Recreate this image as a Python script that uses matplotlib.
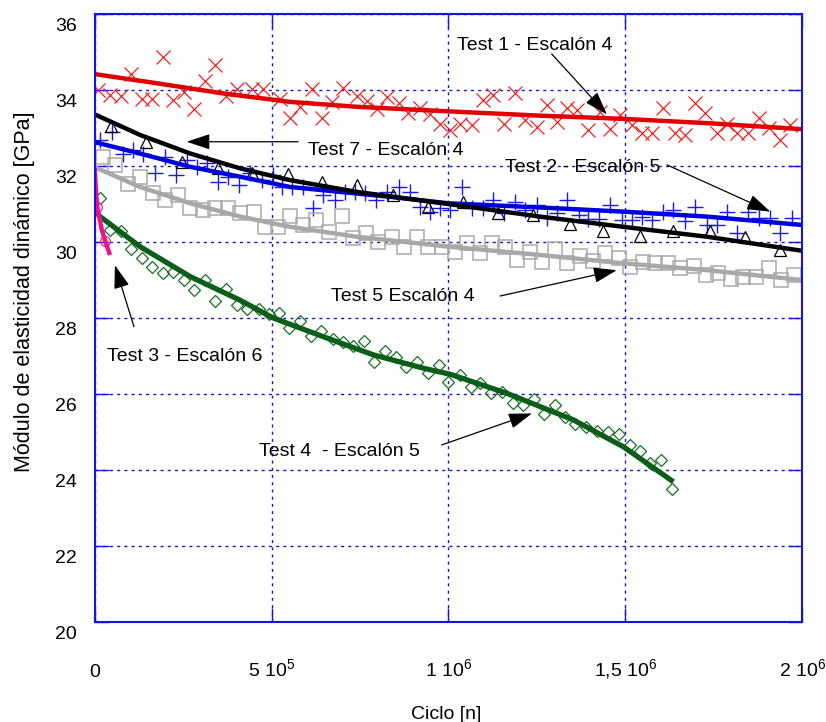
import numpy as np
import matplotlib
matplotlib.use("Agg")
import matplotlib.pyplot as plt
from matplotlib.transforms import ScaledTranslation

plt.rcParams['font.family'] = ['Liberation Sans', 'DejaVu Sans']
plt.rcParams['mathtext.fontset'] = 'custom'
plt.rcParams['mathtext.rm'] = 'Liberation Sans'

# ---------------- data (x in thousands of cycles, y in GPa) ----------------
# Test 1 - Escalón 4 (red x)
t1_x = [10, 43, 74, 102, 133, 161, 192, 222, 253, 282, 312, 340, 371, 403, 444, 477,
        524, 552, 581, 614, 642, 670, 703, 741, 769, 797, 826, 859, 887, 920, 948, 977,
        1005, 1033, 1066, 1099, 1127, 1156, 1189, 1217, 1250, 1278, 1307, 1335, 1363,
        1396, 1429, 1457, 1486, 1519, 1547, 1575, 1608, 1641, 1669, 1698, 1726, 1759,
        1787, 1816, 1848, 1877, 1905, 1938, 1966]
t1_y = [34.00, 33.87, 33.84, 34.41, 33.76, 33.76, 34.88, 33.74, 33.96, 33.49, 34.24,
        34.66, 33.84, 34.02, 34.03, 34.04, 33.76, 33.26, 33.56, 34.02, 33.26, 33.69,
        34.06, 33.84, 33.71, 33.49, 33.82, 33.65, 33.40, 33.53, 33.36, 33.12, 32.95,
        33.12, 33.08, 33.74, 33.87, 33.12, 33.91, 33.21, 33.03, 33.61, 33.17, 33.54,
        33.47, 32.95, 33.43, 32.97, 33.34, 33.08, 32.88, 32.88, 33.52, 32.86, 32.82,
        33.65, 33.39, 32.86, 33.12, 32.86, 32.86, 33.26, 32.99, 32.68, 33.08]
t1_fit_x = [0, 175, 364, 552, 741, 1000, 1250, 1500, 1750, 2000]
t1_fit_y = [34.42, 34.18, 33.91, 33.69, 33.56, 33.44, 33.33, 33.24, 33.12, 32.97]

# Test 7 - Escalón 4 (black triangles)
t7_x = [45, 145, 246, 348, 446, 546, 642, 741, 844, 943, 1042, 1141, 1240, 1344,
        1438, 1542, 1636, 1740, 1839, 1938]
t7_y = [33.05, 32.64, 32.11, 31.94, 31.81, 31.79, 31.59, 31.50, 31.24, 30.93, 31.06,
        30.76, 30.71, 30.47, 30.30, 30.16, 30.30, 30.30, 30.12, 29.79]
t7_fit_x = [0, 128, 270, 411, 552, 741, 1000, 1259, 1495, 1731, 2000]
t7_fit_y = [33.36, 32.82, 32.33, 31.94, 31.63, 31.32, 31.00, 30.67, 30.40, 30.14, 29.77]

# Test 2 - Escalón 5 (blue +)
t2_x = [15, 48, 81, 109, 137, 171, 199, 230, 260, 288, 317, 348, 378, 409, 439, 472,
        503, 529, 557, 590, 618, 646, 680, 708, 736, 764, 796, 826, 859, 890, 920, 948,
        977, 1005, 1038, 1066, 1099, 1127, 1156, 1189, 1217, 1250, 1278, 1307, 1335,
        1368, 1396, 1427, 1457, 1490, 1519, 1547, 1575, 1606, 1636, 1669, 1698, 1731,
        1759, 1787, 1816, 1848, 1877, 1910, 1938, 1971]
t2_y = [32.68, 32.90, 32.33, 32.42, 32.33, 31.81, 32.24, 31.76, 32.16, 31.98, 32.07,
        31.59, 31.72, 31.50, 31.81, 31.63, 31.76, 31.45, 31.45, 31.45, 30.89, 31.24,
        31.11, 31.32, 31.32, 31.28, 31.11, 31.32, 31.45, 31.32, 30.93, 30.80, 30.89,
        30.84, 31.45, 30.89, 30.89, 31.11, 30.76, 31.06, 30.84, 30.97, 30.62, 30.76,
        31.11, 30.71, 30.60, 30.60, 30.97, 30.58, 30.58, 30.67, 30.58, 30.80, 30.84,
        30.56, 30.91, 30.45, 30.45, 30.80, 30.23, 30.80, 30.62, 30.62, 30.25, 30.62]
t2_fit_x = [0, 128, 270, 411, 552, 835, 1000, 1259, 1495, 1731, 2000]
t2_fit_y = [32.63, 32.33, 31.98, 31.72, 31.45, 31.19, 31.02, 30.91, 30.80, 30.67, 30.45]

# Test 5 Escalón 4 (grey squares)
t5_x = [24, 57, 95, 128, 166, 199, 236, 270, 307, 340, 378, 411, 449, 482, 519, 552,
        590, 626, 661, 699, 731, 767, 802, 840, 873, 911, 943, 981, 1019, 1052, 1088,
        1123, 1160, 1193, 1231, 1264, 1302, 1335, 1372, 1408, 1443, 1481, 1514, 1550,
        1585, 1622, 1655, 1693, 1729, 1763, 1799, 1834, 1870, 1905, 1940, 1978]
t5_y = [32.24, 32.03, 31.54, 31.72, 31.28, 31.11, 31.24, 30.89, 30.84, 30.89, 30.89,
        30.76, 30.80, 30.40, 30.40, 30.68, 30.45, 30.58, 30.27, 30.68, 30.10, 30.23,
        30.01, 30.14, 29.88, 30.14, 29.88, 29.88, 29.74, 29.97, 29.70, 29.97, 29.88,
        29.53, 29.74, 29.48, 29.83, 29.44, 29.63, 29.51, 29.70, 29.57, 29.35, 29.48,
        29.46, 29.44, 29.31, 29.37, 29.13, 29.18, 29.04, 29.09, 29.09, 29.31, 29.00,
        29.13]
t5_fit_x = [0, 128, 270, 411, 552, 741, 1000, 1259, 1495, 1731, 2000]
t5_fit_y = [31.97, 31.45, 31.02, 30.67, 30.40, 30.14, 29.88, 29.66, 29.44, 29.26, 29.00]

# Test 4 - Escalón 5 (green diamonds)
t4_x = [15, 43, 73, 102, 133, 161, 192, 222, 253, 282, 312, 340, 371, 401, 430, 463,
        494, 522, 550, 581, 611, 639, 673, 703, 731, 762, 790, 821, 852, 880, 911, 941,
        972, 1000, 1033, 1063, 1090, 1120, 1151, 1182, 1212, 1242, 1271, 1302, 1330,
        1358, 1389, 1421, 1452, 1481, 1512, 1542, 1570, 1601, 1632]
t4_y = [31.15, 30.32, 30.30, 29.83, 29.57, 29.35, 29.18, 29.22, 29.00, 28.74, 29.00,
        28.46, 28.76, 28.34, 28.23, 28.25, 28.11, 28.14, 27.75, 27.93, 27.53, 27.67,
        27.44, 27.38, 27.26, 27.40, 26.85, 27.14, 26.97, 26.72, 26.85, 26.56, 26.76,
        26.32, 26.50, 26.19, 26.28, 26.02, 26.06, 25.77, 25.71, 25.86, 25.47, 25.71,
        25.39, 25.21, 25.12, 25.04, 25.01, 24.95, 24.66, 24.51, 24.19, 24.26, 23.49]
t4_fit_x = [0, 15, 128, 270, 411, 505, 646, 788, 929, 1005, 1165, 1353, 1495, 1636]
t4_fit_y = [30.85, 30.67, 29.88, 29.09, 28.47, 28.00, 27.51, 27.03, 26.68, 26.52,
            26.02, 25.32, 24.61, 23.69]

# Test 3 - Escalón 6 (magenta circles)
t3_x = [7, 30]
t3_y = [30.93, 30.03]
t3_fit_x = [0, 3, 7, 20, 30, 43]
t3_fit_y = [31.95, 31.40, 30.93, 30.32, 30.02, 29.66]

# annotations: (text, text centre, arrow tail, arrow head)
annotations = [
    ("Test 1 - Escalón 4", (1245, 35.17), (1292, 34.95), (1448, 33.36)),
    ("Test 7 - Escalón 4", (824, 32.42), (575, 32.64), (260, 32.64)),
    ("Test 2 - Escalón 5", (1379, 31.96), (1618, 32.03), (1910, 30.80)),
    ("Test 5 Escalón 4", (870, 28.56), (1146, 28.58), (1476, 29.26)),
    ("Test 3 - Escalón 6", (255, 26.98), (111, 27.77), (57, 29.39)),
    ("Test 4  - Escalón 5", (691, 24.48), (981, 24.66), (1236, 25.49)),
]

xticks = [0, 500000, 1000000, 1500000, 2000000]
xticklabels = ['0', r'5 10$^{5}$', r'1 10$^{6}$', r'1,5 10$^{6}$', r'2 10$^{6}$']
yticks = [20, 22, 24, 26, 28, 30, 32, 34, 36]
yticklabels = ['20', '22', '24', '26', '28', '30', '32', '34', '36']


def k(v):
    return np.asarray(v, dtype=float) * 1e3


fig = plt.figure(figsize=(8.26, 7.22), dpi=100)
ax = fig.add_axes([0.1147, 0.1385, 0.8564, 0.842])

blue = '#1515d8'
# markers
ax.plot(k(t1_x), t1_y, ls='none', marker='x', ms=10, mew=0.9, color='#ee2222')
ax.plot(k(t2_x), t2_y, ls='none', marker='+', ms=11, mew=1.0, color='#1a1ae0')
ax.plot(k(t7_x), t7_y, ls='none', marker='^', ms=8, mew=0.9, mfc='none', color='black')
ax.plot(k(t5_x), t5_y, ls='none', marker='s', ms=10.5, mew=1.1, mfc='none', color='#aaaaaa')
ax.plot(k(t4_x), t4_y, ls='none', marker='D', ms=6.5, mew=0.9, mfc='none', color='#17701f')
ax.plot(k(t3_x), t3_y, ls='none', marker='o', ms=7, mew=0.9, mfc='none', color='#ee2299')

# fitted curves
ax.plot(k(t1_fit_x), t1_fit_y, color='#e00000', lw=3.2, solid_capstyle='butt')
ax.plot(k(t5_fit_x), t5_fit_y, color='#a8a8a8', lw=3.2, solid_capstyle='butt')
ax.plot(k(t2_fit_x), t2_fit_y, color='#0000dd', lw=3.2, solid_capstyle='butt')
ax.plot(k(t7_fit_x), t7_fit_y, color='black', lw=3.2, solid_capstyle='butt')
ax.plot(k(t4_fit_x), t4_fit_y, color='#0b5e1a', lw=3.8, solid_capstyle='butt')
ax.plot(k(t3_fit_x), t3_fit_y, color='#ee1188', lw=3.2, solid_capstyle='butt')

for txt, tpos, tail, head in annotations:
    ax.text(tpos[0] * 1e3, tpos[1], txt, fontsize=14, ha='center', va='center')
    ax.annotate('', xy=(head[0] * 1e3, head[1]), xytext=(tail[0] * 1e3, tail[1]),
                arrowprops=dict(arrowstyle='-|>,head_length=0.9,head_width=0.3',
                                color='black', lw=0.9, mutation_scale=16,
                                shrinkA=0, shrinkB=0))

ax.set_xlim(0, 2e6)
ax.set_ylim(20, 36)
ax.set_xticks(xticks, labels=xticklabels, va='baseline')
ax.set_yticks(yticks, labels=yticklabels, va='top')
ax.tick_params(axis='both', direction='in', length=10, width=1, color=blue,
               top=True, right=True, labelsize=14)
ax.tick_params(axis='x', pad=39.5)
ax.tick_params(axis='y', pad=13)
shift = ScaledTranslation(0, -3 / 72, fig.dpi_scale_trans)
for lab in ax.get_yticklabels():
    lab.set_transform(lab.get_transform() + shift)
ax.grid(True, color=blue, lw=1, linestyle=(0, (2.2, 3)))
for sp in ax.spines.values():
    sp.set_color(blue)
    sp.set_linewidth(1.5)

ax.set_xlabel('Ciclo [n]', fontsize=14)
ax.xaxis.set_label_coords(0.497, -0.138)
ax.set_ylabel('Módulo de elasticidad dinámico [GPa]', fontsize=15.5)
ax.yaxis.set_label_coords(-0.084, 0.543)

fig.savefig('out.png', dpi=100)
